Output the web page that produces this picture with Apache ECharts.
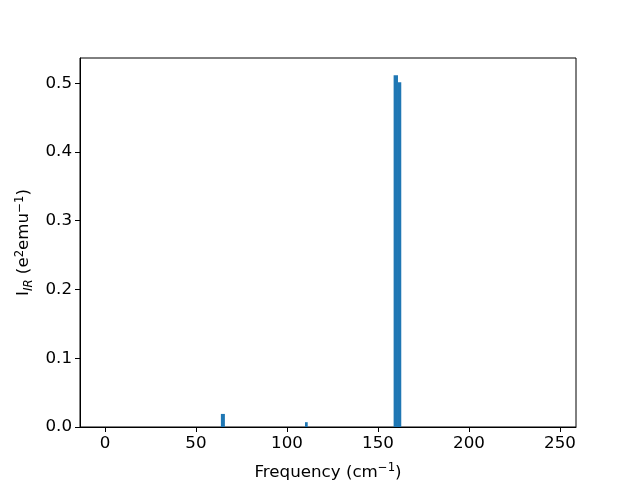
<!DOCTYPE html>
<html><head><meta charset="utf-8">
<script src="https://cdn.jsdelivr.net/npm/echarts@6/dist/echarts.min.js"></script>
<style>html,body{margin:0;padding:0;background:#fff}#c{width:640px;height:480px}</style>
</head><body><div id="c"></div>
<script>
const binStart = [63.7, 109.9, 158.6, 161.0];
const binEnd   = [65.9, 111.4, 161.0, 162.8];
const intensity = [0.019, 0.007, 0.5115, 0.5015];
const xTicks = [0, 50, 100, 150, 200, 250];
const yTicks = [0.0, 0.1, 0.2, 0.3, 0.4, 0.5];

const data = binStart.map((s, i) => [s, binEnd[i], intensity[i]]);
const font = 'DejaVu Sans';
const fs = 16.7;
const chart = echarts.init(document.getElementById('c'), null, {renderer: 'canvas'});
chart.setOption({
  animation: false,
  grid: {left: 80, right: 64, top: 58, bottom: 53, show: true, borderColor: '#000', borderWidth: 1,
    backgroundColor: 'transparent', containLabel: false, outerBoundsMode: 'none'},
  xAxis: {
    type: 'value', min: -13.7, max: 258.8,
    splitLine: {show: false},
    axisLine: {show: true, onZero: false, lineStyle: {color: '#000', width: 1}},
    axisTick: {show: true, length: 5, lineStyle: {color: '#000'}, customValues: xTicks},
    axisLabel: {customValues: xTicks, color: '#000', fontSize: fs, fontFamily: font, margin: 8},
    name: 'Frequency (cm{sup|−1})',
    nameLocation: 'middle', nameGap: 35,
    nameTextStyle: {color: '#000', fontSize: fs, fontFamily: font,
      rich: {sup: {fontSize: 11.7, verticalAlign: 'top', fontFamily: font, color: '#000', padding: [0,0,9,0]}}}
  },
  yAxis: {
    type: 'value', min: 0, max: 0.5366,
    splitLine: {show: false},
    axisLine: {show: true, onZero: false, lineStyle: {color: '#000', width: 1}},
    axisTick: {show: true, length: 5, lineStyle: {color: '#000'}, customValues: yTicks},
    axisLabel: {customValues: yTicks, color: '#000', fontSize: fs, fontFamily: font, margin: 8,
      formatter: v => v.toFixed(1)},
    name: 'I{sub|IR} (e{sup|2}emu{sup|−1})',
    nameLocation: 'middle', nameGap: 42,
    nameTextStyle: {color: '#000', fontSize: fs, fontFamily: font,
      rich: {
        sup: {fontSize: 11.7, verticalAlign: 'top', fontFamily: font, color: '#000', padding: [0,0,9,0]},
        sub: {fontSize: 11.7, fontStyle: 'italic', verticalAlign: 'bottom', fontFamily: font, color: '#000', padding: [7,0,0,0]}
      }}
  },
  series: [{
    type: 'custom',
    data: data,
    encode: {x: [0, 1], y: 2},
    renderItem: function (params, api) {
      const p0 = api.coord([api.value(0), api.value(2)]);
      const p1 = api.coord([api.value(1), 0]);
      return {type: 'rect', shape: {x: p0[0], y: p0[1], width: p1[0] - p0[0], height: p1[1] - p0[1]},
        style: {fill: '#1f77b4'}};
    }
  }]
});
</script></body></html>
